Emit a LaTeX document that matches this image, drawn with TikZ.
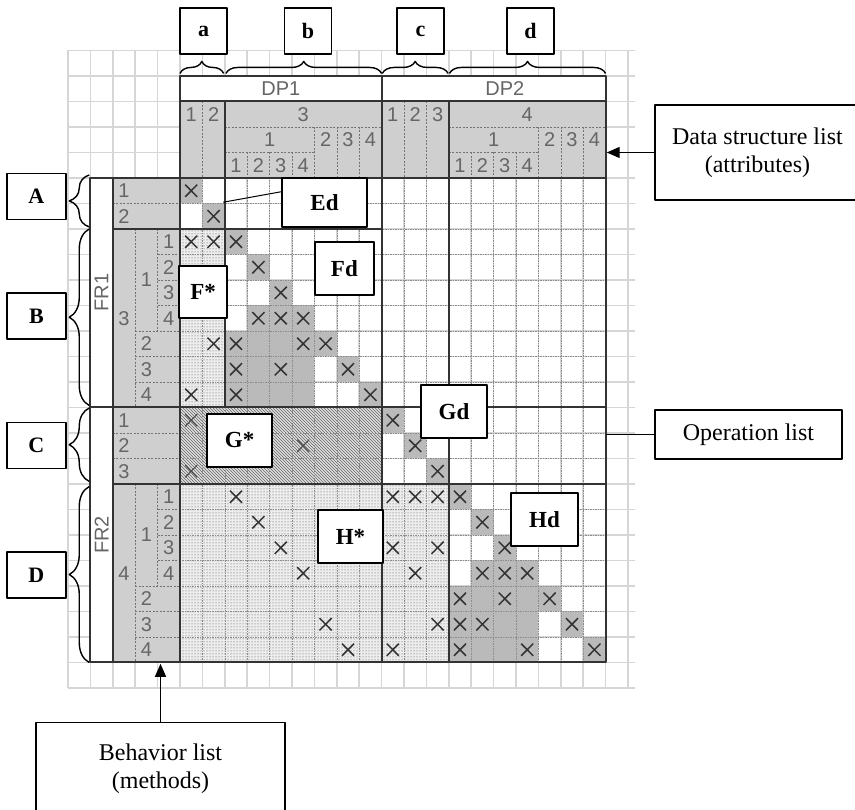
\documentclass[tikz,border=0pt]{standalone}
\usepackage{fontspec}
\setmainfont{Liberation Serif}
\newfontfamily\gridfont{Liberation Sans}
\usetikzlibrary{arrows.meta,decorations.pathreplacing,patterns}
\tikzset{
  every picture/.style={line join=round, >={Triangle[length=13pt,width=11pt]}},
  bggrid/.style={black!16, line width=1.5pt},
  cellgrid/.style={black!45, line width=0.5pt, dash pattern=on 1.5pt off 1pt},
  hdash/.style={black!55, line width=0.6pt, dash pattern=on 2pt off 1.5pt},
  frame/.style={black!80, line width=2pt},
  hdrfill/.style={fill=black!19},
  onfill/.style={fill=black!27},
  xmark/.style={black!80, line width=1.5pt},
  xlight/.style={black!70, line width=1.1pt},
  glab/.style={font=\gridfont\fontsize{20}{20}\selectfont, text=black!60, inner sep=0pt},
  tagbox/.style={draw, fill=white, line width=1.3pt, font=\fontsize{22}{22}\selectfont\bfseries,
    minimum width=47pt, minimum height=46pt, inner sep=0pt},
  subbox/.style={tagbox, font=\fontsize{23}{23}\selectfont\bfseries, minimum height=53pt},
  notebox/.style={draw, fill=white, line width=1.3pt, font=\fontsize{24}{28}\selectfont, align=center},
  brc/.style={decorate, decoration={brace, amplitude=#1}, line width=1.4pt},
}

\begin{document}
\begin{tikzpicture}[x=22.4pt, y=-25.5pt]
\useasboundingbox (-180pt,178pt) rectangle (675pt,-632pt);
% background grid paper
\foreach \c in {-5,...,20} \draw[bggrid] (\c,-5) -- (\c,20);
\foreach \r in {-5,...,20} \draw[bggrid] (-5,\r) -- (20.3,\r);
% header fills
\fill[white] (0,-4) rectangle (19,-3);
\fill[white] (-4,0) rectangle (-3,19);
\fill[hdrfill] (0,-3) rectangle (19,0);
\fill[hdrfill] (-3,0) rectangle (0,19);
% F*, G*, H* areas
\fill[black!7] (0,2) rectangle (2,9);
\fill[pattern=dots, pattern color=black!70] (0,2) rectangle (2,9);
\fill[black!12] (0,9) rectangle (9,12);
\fill[pattern=north west lines, pattern color=black!60] (0,9) rectangle (9,12);
\fill[black!7] (0,12) rectangle (12,19);
\fill[pattern=dots, pattern color=black!70] (0,12) rectangle (12,19);
% gray cells
\foreach \k in {0,1,9,10,11} \fill[onfill] (\k,\k) rectangle ++(1,1);
\foreach \s in {0,10} {
  \foreach \k in {2,3,4} \fill[onfill] (\k+\s,\k+\s) rectangle ++(1,1);
  \fill[onfill] (3+\s,5+\s) rectangle (6+\s,6+\s);
  \fill[onfill] (2+\s,6+\s) rectangle (7+\s,7+\s);
  \fill[onfill] (2+\s,7+\s) rectangle (6+\s,9+\s);
  \fill[onfill] (7+\s,7+\s) rectangle ++(1,1);
  \fill[onfill] (8+\s,8+\s) rectangle ++(1,1);
}
% cell lines
\foreach \c in {1,...,18} \draw[cellgrid] (\c,0) -- (\c,19);
\foreach \r in {1,...,18} \draw[cellgrid] (0,\r) -- (19,\r);
% header subdivisions
\foreach \c in {1,10,11} \draw[hdash] (\c,-3) -- (\c,0);
\foreach \r in {1,10,11} \draw[hdash] (-3,\r) -- (0,\r);
\foreach \s in {0,10} {
  \draw[hdash] (2+\s,-2) -- (9+\s,-2);
  \draw[hdash] (2+\s,-1) -- (6+\s,-1);
  \foreach \k in {3,4,5} \draw[hdash] (\k+\s,-1) -- (\k+\s,0);
  \foreach \k in {6,7,8} \draw[hdash] (\k+\s,-2) -- (\k+\s,0);
  \draw[hdash] (-2,2+\s) -- (-2,9+\s);
  \draw[hdash] (-1,2+\s) -- (-1,6+\s);
  \foreach \k in {3,4,5} \draw[hdash] (-1,\k+\s) -- (0,\k+\s);
  \foreach \k in {6,7,8} \draw[hdash] (-2,\k+\s) -- (0,\k+\s);
}
% marks
\foreach \r/\c in {0/0,1/1,2/0,2/1,2/2,3/3,4/4,5/3,5/4,5/5,6/1,6/2,6/5,6/6,7/2,7/4,7/7,8/0,8/2,8/8,
  9/9,10/10,11/11,12/2,13/3,14/4,15/5,17/6,18/7,12/9,12/10,12/11,14/9,14/11,15/10,17/11,18/9,
  12/12,13/13,14/14,15/13,15/14,15/15,16/12,16/14,16/16,17/12,17/13,17/17,18/12,18/15,18/18}
  \draw[xmark] (\c+0.23,\r+0.26) -- (\c+0.77,\r+0.74) (\c+0.23,\r+0.74) -- (\c+0.77,\r+0.26);
\foreach \r/\c in {9/0,10/5,11/0}
  \draw[xlight] (\c+0.23,\r+0.26) -- (\c+0.77,\r+0.74) (\c+0.23,\r+0.74) -- (\c+0.77,\r+0.26);
% heavy lines
\draw[frame] (0,-4) rectangle (19,0);
\draw[frame] (-4,0) rectangle (19,19);
\draw[frame] (0,-3) -- (19,-3);
\draw[frame] (-3,2) -- (9,2);
\draw[frame] (-4,9) -- (19,9);
\draw[frame] (-3,12) -- (19,12);
\draw[frame] (-3,0) -- (-3,19);
\draw[frame] (0,0) -- (0,19);
\draw[frame] (2,-3) -- (2,9);
\draw[frame] (9,-4) -- (9,19);
\draw[frame] (12,-3) -- (12,19);
% column labels
\node[glab] (dpone) at (4.5,-3.5) {DP1};
\node[glab] (dptwo) at (14.5,-3.5) {DP2};
\foreach \c/\t in {0/1,1/2,9/1,10/2,11/3} \node[glab] (ch-\c) at (\c+0.5,-2.5) {\t};
\node[glab] (ch-three) at (5.5,-2.5) {3};
\node[glab] (ch-four) at (15.5,-2.5) {4};
\foreach \s in {0,10} {
  \node[glab] (cm-\s) at (4+\s,-1.5) {1};
  \foreach \k in {2,3,4} \node[glab] (cm-\s-\k) at (\k+4.5+\s,-1.5) {\k};
  \foreach \k in {1,...,4} \node[glab] (cl-\s-\k) at (\k+1.5+\s,-0.5) {\k};
}
% row labels
\node[glab, rotate=90] (frone) at (-3.5,4.5) {FR1};
\node[glab, rotate=90] (frtwo) at (-3.5,14) {FR2};
\foreach \r/\t in {0/1,1/2,9/1,10/2,11/3} \node[glab] (rh-\r) at (-2.5,\r+0.5) {\t};
\node[glab] (rh-three) at (-2.5,5.5) {3};
\node[glab] (rh-four) at (-2.5,15.5) {4};
\foreach \s in {0,10} {
  \node[glab] (rm-\s) at (-1.5,4+\s) {1};
  \foreach \k in {2,3,4} \node[glab] (rm-\s-\k) at (-1.5,\k+4.5+\s) {\k};
  \foreach \k in {1,...,4} \node[glab] (rl-\s-\k) at (-0.5,\k+1.5+\s) {\k};
}
% braces
\draw[brc=12pt] (0,-4.1) -- (1.95,-4.1);
\draw[brc=12pt] (2.05,-4.1) -- (9,-4.1);
\draw[brc=12pt] (9.03,-4.1) -- (11.97,-4.1);
\draw[brc=12pt] (12.03,-4.1) -- (19,-4.1);
\draw[brc=20pt] (-4.05,1.92) -- (-4.05,-0.12);
\draw[brc=20pt] (-4.05,8.92) -- (-4.05,2);
\draw[brc=20pt] (-4.05,11.9) -- (-4.05,9.02);
\draw[brc=20pt] (-4.05,19) -- (-4.05,12.1);
% block tags
\node[tagbox] (ta) at (1.05,-5.76) {a};
\node[tagbox] (tb) at (5.71,-5.76) {b};
\node[tagbox] (tc) at (10.74,-5.76) {c};
\node[tagbox] (td) at (15.65,-5.76) {d};
\node[tagbox, minimum width=59pt] (tA) at (-6.41,0.73) {A};
\node[tagbox, minimum width=59pt] (tB) at (-6.41,5.41) {B};
\node[tagbox, minimum width=59pt] (tC) at (-6.41,10.49) {C};
\node[tagbox, minimum width=59pt] (tD) at (-6.41,15.57) {D};
% sub-matrix tags
\node[subbox, minimum width=85pt, minimum height=49pt] (Ed) at (6.45,0.96) {Ed};
\node[subbox, minimum width=59pt] (Fd) at (7.34,3.55) {Fd};
\node[subbox, minimum width=48pt, minimum height=52pt] (Fs) at (1.03,4.47) {F*};
\node[subbox, minimum width=65pt] (Gs) at (2.66,10.29) {G*};
\node[subbox, minimum width=66pt] (Gd) at (12.23,9.16) {Gd};
\node[subbox, minimum width=65pt] (Hs) at (7.61,14.06) {H*};
\node[subbox, minimum width=67pt] (Hd) at (16.27,13.39) {Hd};
\coordinate (edpt) at (1.93,0.95);
\draw[line width=1pt] (Ed.166) -- (edpt);
% lists
\node[notebox, minimum width=205pt, minimum height=95pt] (ds) at (25.78,-1) {Data structure list\\(attributes)};
\node[notebox, minimum width=187pt, minimum height=49pt] (op) at (25.38,10.06) {Operation list};
\node[notebox, minimum width=249pt, minimum height=92pt] (bh) at (-0.87,23.16) {Behavior list\\(methods)};
\draw[->, line width=1.3pt] (ds.west) -- (ds.west -| 19.05,0);
\draw[line width=1.3pt] (op.west) -- (op.west -| 19,0);
\draw[->, line width=1.3pt] (bh.north) -- (bh.north |- 0,19.05);
\end{tikzpicture}
\end{document}
